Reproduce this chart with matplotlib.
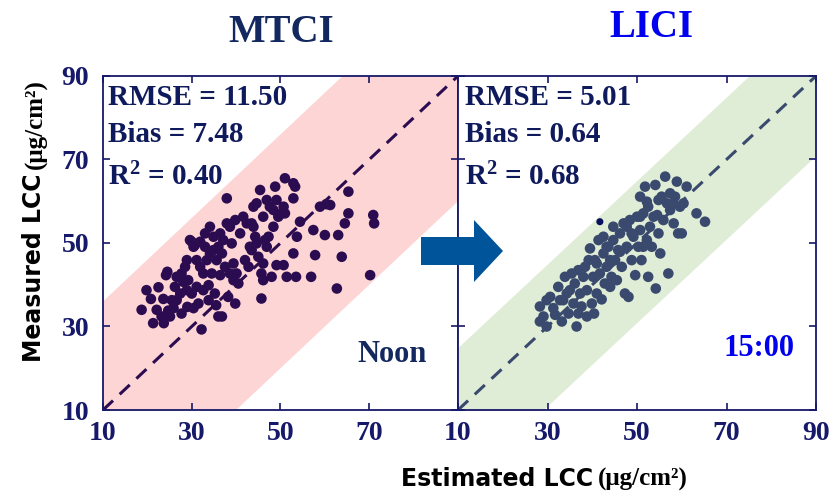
import numpy as np
import matplotlib
matplotlib.use('Agg')
import matplotlib.pyplot as plt
import matplotlib.patches as mpatches

plt.rcParams['mathtext.fontset'] = 'custom'
plt.rcParams['mathtext.rm'] = 'Liberation Serif:bold'
plt.rcParams['mathtext.default'] = 'rm'

# MTCI at noon: estimated vs measured LCC
mtci_est = [18.7, 20.8, 21.3, 22.5, 23.6, 23.7, 24.2, 24.5, 24.7, 25.1, 25.9, 26.2, 26.6, 26.6, 27.4,
            27.7, 28.1, 28.5, 28.9, 29.0, 29.6, 30.0, 30.0, 30.4, 30.7, 31.1, 31.5, 31.9, 32.2, 31.9,
            32.6, 33.0, 33.4, 33.8, 33.8, 34.1, 34.1, 34.5, 34.9, 35.2, 35.5, 35.6, 36.0, 36.0, 36.8,
            36.4, 37.1, 37.5, 37.9, 37.9, 38.2, 38.6, 39.0, 39.4, 39.4, 39.8, 39.8, 40.5, 41.6, 42.0,
            42.4, 42.8, 43.1, 43.5, 43.5, 43.9, 44.3, 44.6, 45.0, 45.4, 45.7, 45.7, 46.1, 46.1, 46.5,
            46.9, 46.9, 47.6, 48.0, 48.4, 48.8, 49.1, 49.1, 49.5, 50.7, 50.7, 51.0, 51.0, 51.4, 52.9,
            52.9, 52.9, 53.3, 53.5, 53.7, 54.4, 56.9, 57.4, 57.8, 60.0, 61.2, 62.7, 63.0, 63.8, 64.5,
            65.3, 65.3, 70.2, 70.9, 71.1, 58.9, 60.3,
            19.8, 22.1, 23.2, 25.5, 27.7, 28.9, 29.2, 30.4, 31.1, 32.6, 33.0, 34.9, 36.4, 36.8, 38.6,
            40.1, 40.9, 43.9, 44.6, 46.1, 47.3, 48.4, 50.3]
mtci_meas = [34.0, 36.6, 30.8, 39.4, 36.6, 30.8, 42.3, 43.1, 33.8, 32.4, 34.4, 39.5, 41.9, 36.3, 37.9,
             33.1, 40.7, 44.3, 38.7, 34.7, 50.7, 50.3, 37.9, 34.4, 49.5, 39.5, 35.5, 50.3, 29.3, 44.3,
             42.7, 49.1, 45.9, 39.9, 36.3, 53.9, 47.5, 42.7, 51.5, 37.9, 35.1, 45.9, 49.1, 32.4, 32.4,
             42.3, 50.7, 44.3, 60.7, 54.7, 37.1, 42.7, 49.9, 41.1, 45.1, 55.5, 35.5, 40.3, 56.3, 45.9,
             54.7, 44.3, 49.1, 48.3, 54.7, 58.7, 51.5, 59.5, 46.7, 62.7, 42.7, 36.7, 56.3, 41.1, 50.7,
             60.3, 49.1, 58.7, 41.9, 57.9, 63.5, 60.3, 44.7, 56.3, 58.7, 44.7, 65.5, 57.1, 41.9, 64.3,
             60.7, 47.5, 63.5, 41.9, 51.5, 55.1, 41.9, 53.1, 47.1, 51.9, 59.1, 39.1, 51.9, 46.7, 54.7,
             57.1, 62.3, 42.3, 56.7, 54.7, 58.7, 59.3,
             38.7, 34.0, 32.4, 36.3, 42.7, 45.9, 41.1, 49.1, 45.9, 38.7, 52.3, 48.3, 52.3, 47.5, 53.9,
             42.7, 52.3, 53.9, 49.9, 45.1, 51.5, 53.9, 57.1]

# LICI at 15:00
lici_est = [28.3, 28.3, 29.1, 29.8, 30.6, 31.3, 31.7, 32.4, 32.8, 33.2, 33.9, 34.3, 34.7, 35.4, 35.8,
            36.1, 36.5, 36.9, 37.3, 37.6, 38.0, 38.4, 38.8, 38.8, 39.5, 39.9, 40.2, 40.4, 40.6, 41.0,
            41.4, 41.7, 42.1, 42.5, 42.5, 42.8, 43.2, 43.6, 44.0, 44.3, 44.7, 44.7, 45.1, 45.5, 45.8,
            46.2, 46.6, 47.0, 47.3, 47.7, 48.1, 48.4, 48.8, 49.2, 49.6, 50.0, 50.3, 50.7, 50.7, 51.0,
            51.4, 51.8, 52.2, 52.5, 52.5, 52.9, 53.3, 53.7, 54.1, 54.2, 54.8, 54.8, 55.2, 55.5, 55.9,
            56.3, 56.7, 57.0, 57.4, 58.2, 58.5, 58.9, 59.2, 59.6, 60.0, 60.4, 61.1, 63.3, 65.2,
            29.8, 33.5, 35.0, 36.9, 39.2, 41.0, 43.2, 44.0, 46.2, 47.7, 48.8, 50.7, 51.4, 52.2, 54.5,
            57.4, 58.2]
lici_meas = [34.8, 31.2, 32.4, 30.0, 37.1, 34.4, 32.8, 39.5, 36.3, 31.2, 41.9, 37.9, 33.1, 42.7, 35.5,
             40.3, 30.0, 33.1, 37.9, 34.8, 41.9, 44.3, 32.4, 38.7, 48.7, 35.5, 41.9, 33.1, 45.9, 37.9,
             50.7, 42.7, 36.5, 47.5, 51.5, 40.3, 44.3, 49.1, 45.9, 41.9, 53.9, 50.7, 45.9, 41.1, 48.3,
             52.3, 44.3, 54.7, 37.9, 49.1, 37.1, 55.5, 45.9, 51.5, 42.3, 56.3, 49.1, 61.1, 53.1, 45.9,
             57.1, 63.5, 50.7, 41.9, 58.7, 53.9, 49.1, 56.3, 63.9, 39.1, 60.3, 52.3, 47.5, 61.1, 55.5,
             65.9, 59.5, 42.7, 57.9, 54.7, 61.1, 64.7, 52.3, 58.7, 52.3, 59.5, 63.5, 57.1, 55.1,
             36.3, 36.3, 38.7, 43.5, 45.9, 45.1, 49.1, 39.5, 47.9, 53.9, 52.3, 56.3, 49.1, 59.9, 56.7,
             61.9, 59.5]
# single outlier drawn darker
lici_odd_est = [41.7]
lici_odd_meas = [55.1]

panels = ['MTCI', 'LICI']
rmse = [11.50, 5.01]
bias = [7.48, 0.64]
r2 = [0.40, 0.68]
times = ['Noon', '15:00']
band_lo = [-30, -19]
band_hi = [26, 15]

ticks = [10, 30, 50, 70, 90]

navy = '#16186a'
serif = 'Liberation Serif'
W, H = 833, 494

fig = plt.figure(figsize=(W / 100, H / 100), dpi=100)
ax1 = fig.add_axes([103 / W, 84 / H, 355 / W, 334 / H])
ax2 = fig.add_axes([458 / W, 84 / H, 358 / W, 334 / H])

xs = np.array([10, 90])
conf = [
    (ax1, mtci_est, mtci_meas, '#2b0c50', '#fdd5d5', '#2b0c50'),
    (ax2, lici_est, lici_meas, '#3a4a6e', '#dfecd6', '#3a4a6e'),
]
for i, (ax, est, meas, dot_c, band_c, line_c) in enumerate(conf):
    ax.fill_between(xs, xs + band_lo[i], xs + band_hi[i], color=band_c, lw=0, zorder=1)
    ax.plot(xs, xs, color=line_c, lw=2.2, dashes=(4.5, 3), zorder=2)
    ax.scatter(est, meas, s=58, color=dot_c, edgecolors='none', zorder=3)
    ax.set_xlim(10, 90)
    ax.set_ylim(10, 90)
    ax.set_xticks(ticks)
    ax.set_yticks(ticks)
    ax.tick_params(direction='in', top=True, right=True, length=5, width=1.2,
                   color=navy, labelcolor=navy, labelsize=20)
    ax.tick_params(axis='x', pad=8)
    ax.tick_params(axis='y', pad=10)
    for lab in ax.get_xticklabels() + ax.get_yticklabels():
        lab.set_fontfamily(serif)
        lab.set_fontweight('bold')
    for sp in ax.spines.values():
        sp.set_color(navy)
        sp.set_linewidth(1.3)

    x0 = 0.014 if i == 0 else 0.02
    kw = dict(transform=ax.transAxes, fontsize=21, fontweight='bold', family=serif,
              color='#0f1a5c', va='baseline', ha='left', zorder=4)
    ax.text(x0, 0.913, f'RMSE = {rmse[i]:.2f}', **kw)
    ax.text(x0, 0.802, f'Bias = {bias[i]:.2f}', **kw)
    ax.text(x0, 0.674, 'R$^{2}$' + f' = {r2[i]:.2f}', **kw)

ax2.scatter(lici_odd_est, lici_odd_meas, s=26, color='#0a1060', edgecolors='none', zorder=3)

ax1.set_xticklabels(['10', '30', '50', '70', ''])
ax2.set_yticklabels([])

ax1.text(0.913, 0.144, times[0], transform=ax1.transAxes, fontsize=22, fontweight='bold',
         family=serif, color='#12285e', ha='right', va='baseline')
ax2.text(0.941, 0.162, times[1], transform=ax2.transAxes, fontsize=22, fontweight='bold',
         family=serif, color='#0000ee', ha='right', va='baseline')

# panel titles
fig.text(281 / W, (H - 42) / H, panels[0], fontsize=28, fontweight='bold', family=serif,
         color='#12285e', ha='center', va='baseline')
fig.text(651 / W, (H - 37) / H, panels[1], fontsize=28, fontweight='bold', family=serif,
         color='#0000ee', ha='center', va='baseline')

# axis labels: sans name followed by serif units
ylab = fig.text(34 / W, (H - 362) / H, 'Measured LCC', rotation=90, fontsize=17,
                fontweight='bold', family='DejaVu Sans', color='black', ha='center', va='bottom')
xlab = fig.text(401 / W, (H - 486) / H, 'Estimated LCC', fontsize=17, fontweight='bold',
                family='DejaVu Sans', color='black', ha='left', va='baseline')
fig.canvas.draw()
rend = fig.canvas.get_renderer()
yb = ylab.get_window_extent(rend)
xb = xlab.get_window_extent(rend)
fig.text(36 / W, (yb.y1 + 5) / H, '(μg/cm²)', rotation=90, fontsize=18,
         fontweight='bold', family=serif, color='black', ha='center', va='bottom')
fig.text((xb.x1 + 5) / W, (H - 486) / H, '(μg/cm²)', fontsize=18, fontweight='bold',
         family=serif, color='black', ha='left', va='baseline')

# arrow between the panels (pixel coords -> figure fraction)
arrow_px = [(421, 237), (474, 237), (474, 220), (503, 251), (474, 282), (474, 265), (421, 265)]
arrow_pts = [(x / W, (H - y) / H) for x, y in arrow_px]
fig.patches.append(mpatches.Polygon(arrow_pts, closed=True, color='#005499', lw=0,
                                    transform=fig.transFigure, figure=fig, zorder=5))

fig.savefig('out.png', dpi=100)
